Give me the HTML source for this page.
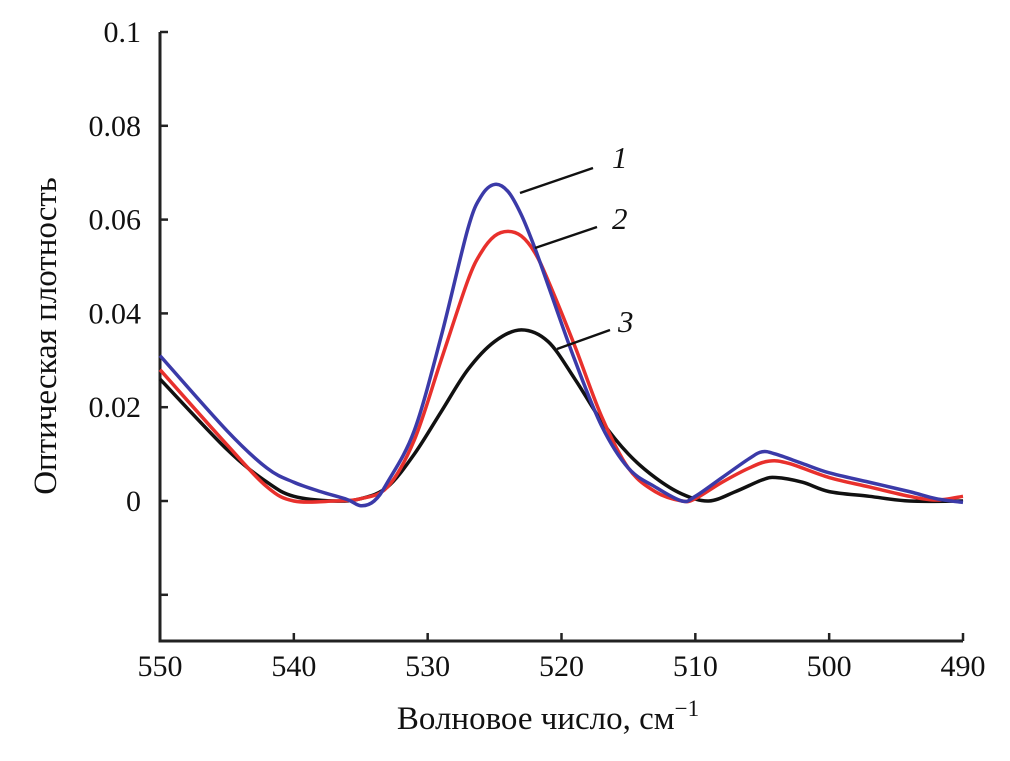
<!DOCTYPE html>
<html><head><meta charset="utf-8"><style>
body{margin:0;background:#fff}
svg{display:block;font-family:"Liberation Serif",serif}
</style></head><body>
<svg id="chart" width="1010" height="761" viewBox="0 0 1010 761"></svg>
<script>
const xTicks=[550,540,530,520,510,500,490];
const yTicks=[0.1,0.08,0.06,0.04,0.02,0];
const yMinorTicks=[-0.02];
const wnBlue=[550,545,542,540,538,536,535,534,533,531,529,527,526,525,524,523,522,521,519,517,515,513,511,510,508,506,505,504,502,500,497,494,492,490];
const valBlue=[0.031,0.015,0.007,0.004,0.002,0.0003,-0.001,0,0.004,0.015,0.035,0.058,0.065,0.0675,0.066,0.061,0.054,0.046,0.03,0.016,0.007,0.003,0,0.001,0.005,0.009,0.0105,0.01,0.008,0.006,0.004,0.002,0.0005,-0.0003];
const wnRed=[550,545,542,540,537,535,533,531,529,527,526,525,524,523,522,521,519,517,515,513,511,510,508,506,504.5,503,500,497,494,492,490];
const valRed=[0.028,0.012,0.003,0,0,0.0005,0.003,0.013,0.03,0.047,0.053,0.0565,0.0575,0.0565,0.053,0.047,0.033,0.018,0.007,0.002,0,0.0005,0.004,0.007,0.0085,0.008,0.005,0.003,0.001,0.0002,0.001];
const wnBlack=[550,545,542,540,537,535,533,531,529,527,525,523,521,519,517,515,513,511,509,507,505,504,502,500,497,494,490];
const valBlack=[0.026,0.011,0.004,0.001,0,0.0005,0.003,0.01,0.019,0.028,0.034,0.0365,0.034,0.026,0.017,0.01,0.005,0.0015,0,0.002,0.0045,0.005,0.004,0.002,0.001,0,0];
const curveLabels=["1","2","3"];

const NS="http://www.w3.org/2000/svg";
const svg=document.getElementById('chart');
const X=v=>160+(550-v)*(963-160)/60;
const Y=v=>501-v*4690;
function el(t,a){const e=document.createElementNS(NS,t);for(const k in a)e.setAttribute(k,a[k]);svg.appendChild(e);return e;}

let a=el('path',{d:`M160,32 L160,641 L963,641`,fill:'none',stroke:'#222','stroke-width':3});



yTicks.concat(yMinorTicks).forEach((v,i)=>{
  const t=el('line',{x1:160,x2:168,y1:Y(v),y2:Y(v),stroke:'#222','stroke-width':2.5});
  
  
});
yTicks.forEach(v=>{
  const t=el('text',{x:141,y:Y(v)+10,'text-anchor':'end','font-size':30,fill:'#111'});
  t.textContent=String(v);
  
  
});
xTicks.forEach(v=>{
  const t=el('line',{x1:X(v),x2:X(v),y1:641,y2:633,stroke:'#222','stroke-width':2.5});
  
  
  const l=el('text',{x:X(v),y:676,'text-anchor':'middle','font-size':30,fill:'#111'});
  l.textContent=String(v);
  
  
});

function smooth(xs,ys){
  const p=xs.map((x,i)=>[X(x),Y(ys[i])]);
  let d=`M${p[0][0]},${p[0][1]}`;
  for(let i=0;i<p.length-1;i++){
    const p0=p[i-1]||p[i],p1=p[i],p2=p[i+1],p3=p[i+2]||p2;
    const c1=[p1[0]+(p2[0]-p0[0])/6,p1[1]+(p2[1]-p0[1])/6];
    const c2=[p2[0]-(p3[0]-p1[0])/6,p2[1]-(p3[1]-p1[1])/6];
    d+=` C${c1[0]},${c1[1]} ${c2[0]},${c2[1]} ${p2[0]},${p2[1]}`;
  }
  return d;
}
let s=el('path',{d:smooth(wnBlack,valBlack),fill:'none',stroke:'#111','stroke-width':3.5});


s=el('path',{d:smooth(wnRed,valRed),fill:'none',stroke:'#e8302c','stroke-width':3.5});


s=el('path',{d:smooth(wnBlue,valBlue),fill:'none',stroke:'#3b3aa8','stroke-width':3.5});



const leaders=[[520,193,593,168,612,168],[535,248,597,227,612,229],[557,349,610,330,618,332]];
leaders.forEach((L,i)=>{
  const l=el('line',{x1:L[0],y1:L[1],x2:L[2],y2:L[3],stroke:'#111','stroke-width':2.5});
  
  
  const t=el('text',{x:L[4],y:L[5],'font-size':31,'font-style':'italic',fill:'#111'});
  t.textContent=curveLabels[i];
  
  
});

let xt=el('text',{x:548,y:729,'text-anchor':'middle','font-size':33,fill:'#111'});
xt.innerHTML='Волновое число, см<tspan dy="-13" font-size="23">−1</tspan>';


let yt=el('text',{x:0,y:0,'text-anchor':'middle','font-size':33,fill:'#111',transform:'translate(56,336) rotate(-90)'});
yt.textContent='Оптическая плотность';


</script>
</body></html>
